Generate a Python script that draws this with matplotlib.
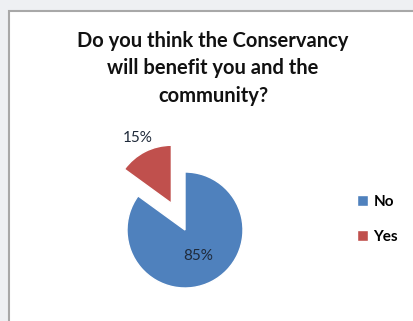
import numpy as np
import matplotlib
matplotlib.use("Agg")
import matplotlib.pyplot as plt
from matplotlib.patches import Rectangle

# data
labels = ['No', 'Yes']
values = [85, 15]
colors = ['#4f81bd', '#c0504d']
title = 'Do you think the Conservancy\nwill benefit you and the\ncommunity?'

W, H = 414, 321
fig = plt.figure(figsize=(W / 100, H / 100), dpi=100, facecolor='#eef0f3')

# white chart area with grey border
fig.patches.append(Rectangle((8.5 / W, -0.05), 1.1, (H - 10.5) / H + 0.05, transform=fig.transFigure,
                             facecolor='white', edgecolor='#a8a8a8', linewidth=1.5, zorder=-5))

# axes in pixel units
ax = fig.add_axes([0, 0, 1, 1])
ax.patch.set_visible(False)

r = 58
wedges, _, autotexts = ax.pie(values, colors=colors, startangle=90, counterclock=False,
                              center=(185, H - 230), radius=r, explode=[0, 30],
                              autopct='%1.0f%%', frame=True,
                              wedgeprops=dict(edgecolor='white', linewidth=1),
                              textprops=dict(fontsize=11, color='#1f2a3a', family='Lato'))
ax.set_xlim(0, W)
ax.set_ylim(0, H)
ax.set_aspect('equal')
ax.axis('off')

# place the percentage labels like Excel does (inside for big slice, outside for small)
dists = [0.5, 1.27]
for w, t, d in zip(wedges, autotexts, dists):
    th = np.deg2rad((w.theta1 + w.theta2) / 2)
    cx, cy = w.center
    t.set_position((cx + d * w.r * np.cos(th), cy + d * w.r * np.sin(th)))

ax.text(213, H - 68.5, title, ha='center', va='center', fontsize=14.5, fontweight='bold',
        family='Lato', color='#111111', linespacing=1.45)

leg = ax.legend(wedges, labels, loc='upper left', bbox_to_anchor=(343 / W, (H - 181) / H),
                bbox_transform=fig.transFigure, frameon=False, handlelength=0.75, handleheight=0.75,
                handletextpad=0.35, labelspacing=1.4, prop=dict(family='Lato', weight='bold', size=11))

fig.savefig('out.png', dpi=100, facecolor=fig.get_facecolor())
